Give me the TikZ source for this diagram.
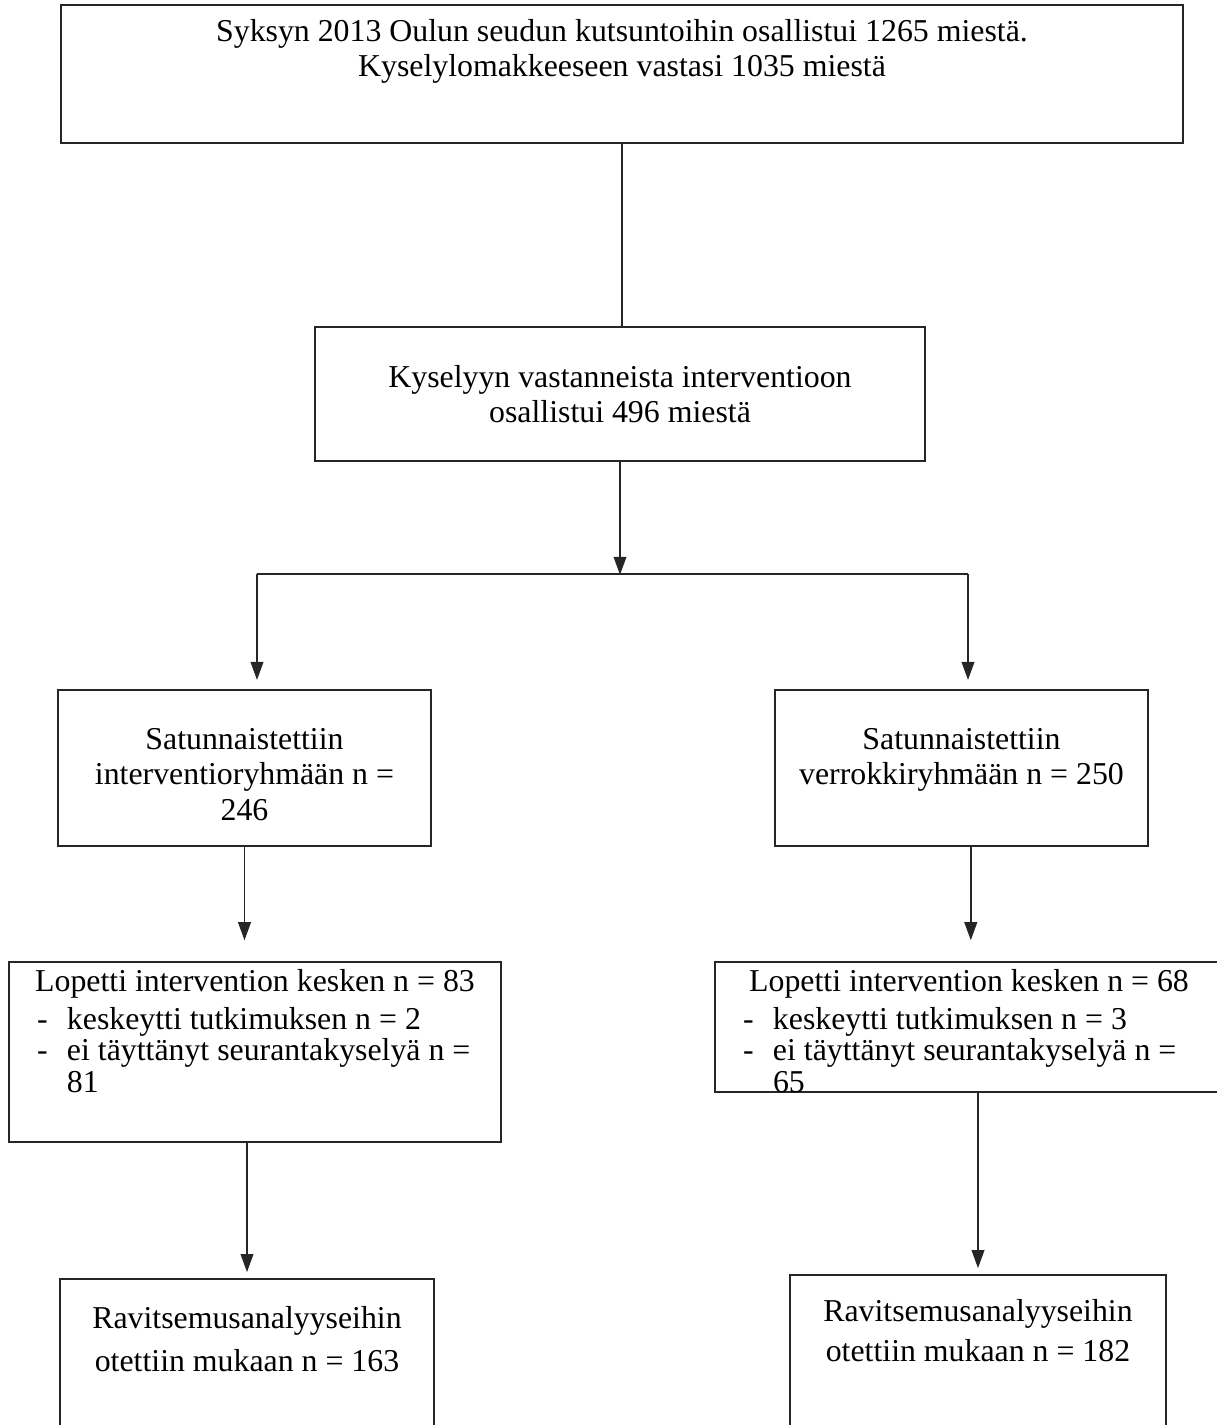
\documentclass[tikz,border=0pt]{standalone}
\usepackage{fontspec}
\setmainfont{Liberation Serif}
\usetikzlibrary{arrows.meta}
\newlength\pxu
\setlength\pxu{0.377pt}
\newcommand\PX[1]{\dimexpr#1\pxu\relax}
% \boxtxt{width px}{height px}{first baseline offset px}{baselineskip}{content}
\newcommand\boxtxt[5]{\parbox[t][\PX{#2}][t]{\PX{#1}}{\fontsize{12}{#4}\selectfont\vspace*{\dimexpr#3\pxu-10pt\relax}#5}}
\newcommand\fl{\rule{0pt}{10pt}}
\newcommand\itm[1]{\par\raggedright\leftskip=\PX{28}\relax\hangindent=\PX{30}\hangafter=1\noindent\makebox[\PX{30}][l]{-}#1\par}
\tikzset{
  frame/.style={draw=black!85, line width=0.55pt, inner sep=0pt, outer sep=0pt, anchor=north west},
  link/.style={draw=black!85, line width=0.55pt},
  arr/.style={link, -{Triangle[length=6.8pt,width=4.8pt]}},
}
\begin{document}
\begin{tikzpicture}[x=0.377pt, y=-0.377pt]
\useasboundingbox (0,0) rectangle (1217,1425);
\clip (0,0) rectangle (1217,1425);

\node[frame] (top) at (61,5) {\boxtxt{1122}{138}{36}{13.2pt}{\centering\fl Syksyn 2013 Oulun seudun kutsuntoihin osallistui 1265 miestä.\\Kyselylomakkeeseen vastasi 1035 miestä}};

\node[frame] (box2) at (315,327) {\boxtxt{610}{134}{60}{13.3pt}{\centering\fl Kyselyyn vastanneista interventioon\\osallistui 496 miestä}};

\node[frame] (s1) at (58,690) {\boxtxt{373}{156}{59}{13.5pt}{\centering\fl Satunnaistettiin\\interventioryhmään n =\\246}};
\node[frame] (s2) at (775,690) {\boxtxt{373}{156}{59}{13.5pt}{\centering\fl Satunnaistettiin\\verrokkiryhmään n = 250}};

\node[frame] (m1) at (9,962) {\boxtxt{492}{180}{29}{12.06pt}{\centering\fl Lopetti intervention kesken n = 83\par\vspace{\PX{6}}%
\itm{keskeytti tutkimuksen n = 2}\itm{ei täyttänyt seurantakyselyä n =\newline 81}}};
\node[frame] (m2) at (715,962) {\boxtxt{508}{130}{29}{12.06pt}{\centering\fl Lopetti intervention kesken n = 68\par\vspace{\PX{6}}%
\itm{keskeytti tutkimuksen n = 3}\itm{ei täyttänyt seurantakyselyä n =\newline 65}}};

\node[frame] (b1) at (60,1279) {\boxtxt{374}{190}{49}{16.5pt}{\centering\fl Ravitsemusanalyyseihin\\otettiin mukaan n = 163}};
\node[frame] (b2) at (790,1275) {\boxtxt{376}{190}{46}{15.2pt}{\centering\fl Ravitsemusanalyyseihin\\otettiin mukaan n = 182}};

\coordinate (barL) at (257,574);
\coordinate (barR) at (968,574);

\draw[link] (top.south) -- (top.south |- box2.north);
\draw[arr] (box2.south) -- ([yshift=-0.3pt]box2.south |- barL);
\draw[link] (barL) -- (barR);
\draw[arr, shorten >=3.8pt] (barL) -- (barL |- s1.north);
\draw[arr, shorten >=3.8pt] (barR) -- (barR |- s2.north);
\draw[arr, shorten >=8.2pt] (s1.south) -- (s1.south |- m1.north);
\draw[arr, shorten >=8.2pt] ([xshift=3.5pt]s2.south) -- ([xshift=3.5pt]s2.south |- m2.north);
\draw[arr, shorten >=2.6pt] (b1.north |- m1.south) -- (b1.north);
\draw[arr, shorten >=2.6pt] (b2.north |- m2.south) -- (b2.north);
\end{tikzpicture}
\end{document}
